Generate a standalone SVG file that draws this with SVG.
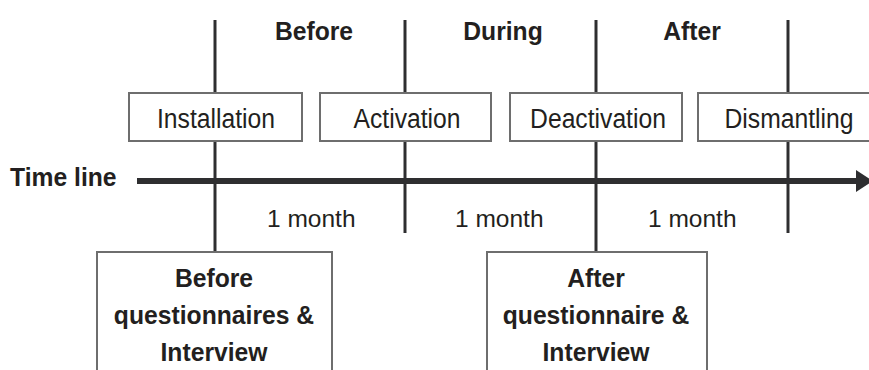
<svg xmlns="http://www.w3.org/2000/svg" width="869" height="370" viewBox="0 0 869 370">
  <defs>
    <style>
      .ln { stroke: #2e2e30; stroke-width: 3; fill: none; }
      .tl { stroke: #2e2e30; stroke-width: 6; fill: none; }
      .box { fill: #ffffff; stroke: #6e6e6e; stroke-width: 2; }
      .reg { font-family: "Liberation Sans", Arial, sans-serif; font-size: 27px; fill: #231f20; }
      .mon { font-family: "Liberation Sans", Arial, sans-serif; font-size: 24.5px; fill: #231f20; }
      .bold { font-family: "Liberation Sans", Arial, sans-serif; font-size: 26px; font-weight: bold; fill: #231f20; }
      .mid { text-anchor: middle; }
    </style>
    <marker id="arrow" markerUnits="userSpaceOnUse" markerWidth="18" markerHeight="22" refX="0" refY="11" orient="auto" overflow="visible">
      <path d="M0,0 L17,11 L0,22 Z" fill="#2e2e30"/>
    </marker>
  </defs>
  <rect width="869" height="370" fill="#ffffff"/>

  <g id="connectors">
    <line class="ln" x1="215" y1="20" x2="215" y2="252"/>
    <line class="ln" x1="405" y1="20" x2="405" y2="233"/>
    <line class="ln" x1="596" y1="20" x2="596" y2="252"/>
    <line class="ln" x1="788" y1="20" x2="788" y2="233"/>
    <line class="tl" x1="137" y1="181" x2="856" y2="181" marker-end="url(#arrow)"/>
  </g>

  <g id="phase-labels">
    <text class="bold mid" transform="translate(314 40) scale(0.95 1)">Before</text>
    <text class="bold mid" transform="translate(503 40) scale(0.95 1)">During</text>
    <text class="bold mid" transform="translate(692 40) scale(0.95 1)">After</text>
  </g>

  <g id="timeline-label">
    <text class="bold" transform="translate(10 186) scale(0.95 1)">Time line</text>
  </g>

  <g id="installation">
    <rect class="box" x="129" y="93" width="173" height="48"/>
    <text class="reg mid" transform="translate(216 128) scale(0.915 1)">Installation</text>
  </g>
  <g id="activation">
    <rect class="box" x="320" y="93" width="171" height="48"/>
    <text class="reg mid" transform="translate(407 128) scale(0.915 1)">Activation</text>
  </g>
  <g id="deactivation">
    <rect class="box" x="510" y="93" width="172" height="48"/>
    <text class="reg mid" transform="translate(598 128) scale(0.915 1)">Deactivation</text>
  </g>
  <g id="dismantling">
    <rect class="box" x="698" y="93" width="172" height="48"/>
    <text class="reg mid" transform="translate(789 128) scale(0.915 1)">Dismantling</text>
  </g>

  <g id="durations">
    <text class="mon" x="267" y="227">1 month</text>
    <text class="mon" x="455" y="227">1 month</text>
    <text class="mon" x="648" y="227">1 month</text>
  </g>

  <g id="before-questionnaires">
    <rect class="box" x="97" y="252" width="235" height="130"/>
    <text class="bold mid" transform="translate(214 287) scale(0.95 1)">Before</text>
    <text class="bold mid" transform="translate(214 324) scale(0.95 1)">questionnaires &amp;</text>
    <text class="bold mid" transform="translate(214 361) scale(0.95 1)">Interview</text>
  </g>
  <g id="after-questionnaire">
    <rect class="box" x="487" y="252" width="220" height="130"/>
    <text class="bold mid" transform="translate(596 287) scale(0.95 1)">After</text>
    <text class="bold mid" transform="translate(596 324) scale(0.95 1)">questionnaire &amp;</text>
    <text class="bold mid" transform="translate(596 361) scale(0.95 1)">Interview</text>
  </g>
</svg>
